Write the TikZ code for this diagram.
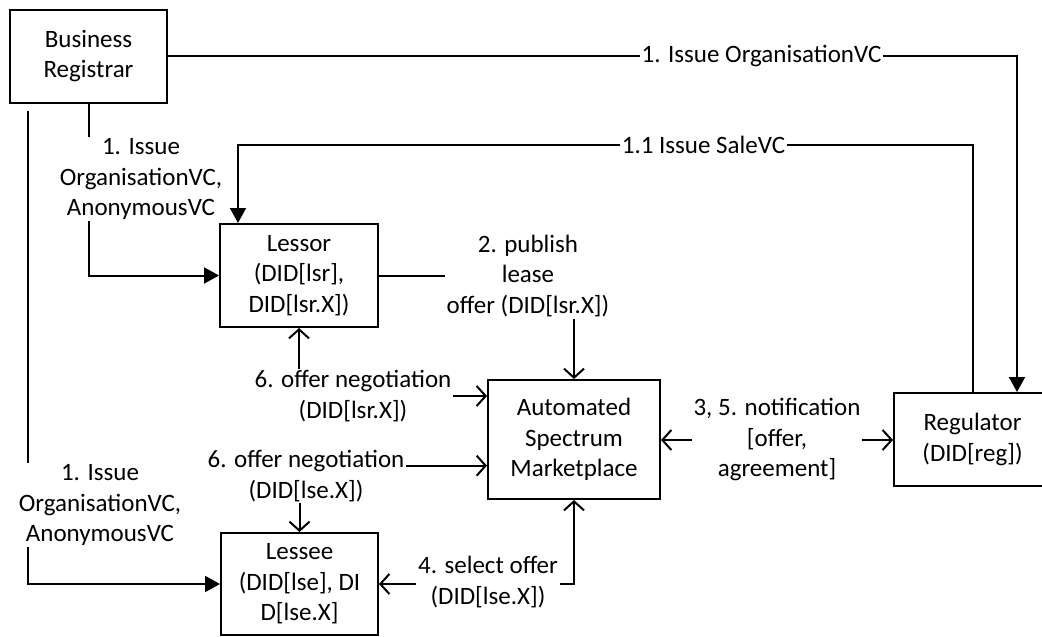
\documentclass[tikz,border=0pt]{standalone}
\usepackage{fontspec}
\setmainfont{Carlito}
\usetikzlibrary{arrows.meta}
\begin{document}
\begin{tikzpicture}[x=1pt,y=-1pt,
  every node/.style={font=\fontsize{25}{30.5}\selectfont},
  box/.style={draw, line width=2pt, align=center, inner sep=0pt},
  lbl/.style={align=center, inner sep=1.5pt},
  conn/.style={line width=2pt},
  tri/.style={conn, -{Triangle[length=15pt,width=16pt]}},
  barb/.style={conn, -{Straight Barb[length=9pt,width=20pt]}}]
\useasboundingbox (0,0) rectangle (1042,637);
% boxes
\node[box, minimum width=157pt, minimum height=93pt] (br) at (88.5,56) {Business\\Registrar};
\node[box, minimum width=158pt, minimum height=103pt] (lessor) at (299,275.5) {Lessor\\(DID[lsr],\\DID[lsr.X])};
\node[box, minimum width=157pt, minimum height=102pt] (lessee) at (299.5,584) {Lessee\\(DID[lse], DI\\D[lse.X]};
\node[box, minimum width=172pt, minimum height=119pt] (asm) at (574,439.5) {Automated\\Spectrum\\Marketplace};
\node[box, minimum width=157pt, minimum height=93pt] (reg) at (972.5,439.5) {Regulator\\(DID[reg])};
% labels
\node[lbl] (t1) at (761.5,56) {1. Issue OrganisationVC};
\node[lbl] (t11) at (703.5,145) {1.1 Issue SaleVC};
\node[lbl] (t2) at (141,179) {1. Issue\\OrganisationVC,\\AnonymousVC};
\node[lbl] (t3) at (100,505) {1. Issue\\OrganisationVC,\\AnonymousVC};
\node[lbl] (t4) at (528,276) {2. publish\\lease\\offer (DID[lsr.X])};
\node[lbl] (t5) at (353,396) {6. offer negotiation\\(DID[lsr.X])};
\node[lbl] (t6) at (306,476) {6. offer negotiation\\(DID[lse.X])};
\node[lbl] (t7) at (777,440) {3, 5. notification\\{}[offer,\\agreement]};
\node[lbl] (t8) at (488,582) {4. select offer\\(DID[lse.X])};
% helper coordinates
\coordinate (r1) at ([xshift=44.5pt]reg.north);
\coordinate (r2) at ([xshift=0.5pt]reg.north);
\coordinate (l1) at ([xshift=-61pt]lessor.north);
\coordinate (bl) at ([xshift=19pt,yshift=-7pt]br.south west);
\coordinate (t6e) at ([yshift=-17pt]t6.north east);
% connectors
\draw[conn] (br.east) -- (t1.west);
\draw[tri] (t1.east) -| (r1);
\draw[conn] (r2) |- (t11.east);
\draw[tri] (t11.west) -| (l1);
\draw[conn] (br.south) -- (br.south |- t2.north);
\draw[tri] (br.south |- t2.south) |- (lessor.west);
\draw[conn] (bl) -- (bl |- t3.north);
\draw[tri] (bl |- t3.south) |- (lessee.west);
\draw[conn] (lessor.east) -- (lessor.east -| t4.west);
\draw[barb] (asm.north |- t4.south) -- (asm.north);
\draw[barb] (lessor.south |- t5.north) -- (lessor.south);
\draw[barb] (t5.east) -- (t5.east -| asm.west);
\draw[barb] (t6e) -- (t6e -| asm.west);
\draw[barb] (lessee.north |- t6.south) -- (lessee.north);
\draw[barb] (t7.west) -- (t7.west -| asm.east);
\draw[barb] (t7.east) -- (t7.east -| reg.west);
\draw[barb] (t8.west |- lessee.east) -- (lessee.east);
\draw[barb] (t8.east |- lessee.east) -| (asm.south);
\end{tikzpicture}
\end{document}
